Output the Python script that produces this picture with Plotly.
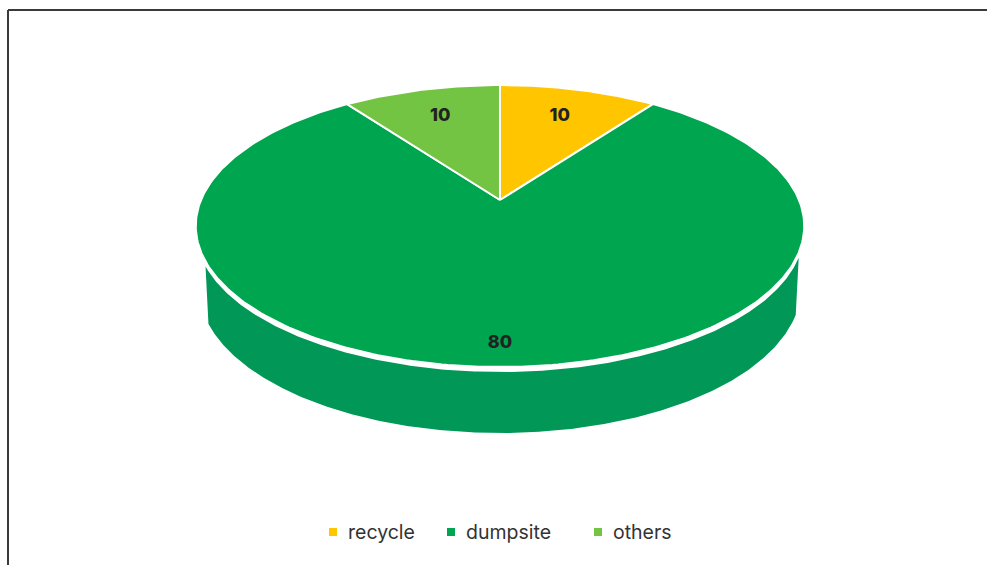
import numpy as np
import plotly.graph_objects as go

# ---- data ----
categories = ["recycle", "dumpsite", "others"]
values = [10, 80, 10]
colors_top = ["#FFC600", "#00A54F", "#74C443"]
colors_side = ["#E6B200", "#009757", "#66B03A"]
label_r = [0.73, 0.88, 0.73]

# ---- geometry (pixel space) ----
W, H = 987, 565
cx, cy = 500.0, 200.0
R, K, D = 299.0, 136.2, 5.42
GAP = 5.0


def proj(theta_deg, r=1.0):
    t = np.radians(theta_deg)
    a = r * np.sin(t)
    b = r * np.cos(t)
    s = D / (D + b)
    return cx + R * a * s, cy - K * b * s


def thick(theta_deg):
    b = np.cos(np.radians(theta_deg))
    return 60.0 + 6.0 * np.clip(-b, 0, 1)


fig = go.Figure()

total = sum(values)
starts = np.cumsum([0] + values[:-1]) / total * 360.0
ends = np.cumsum(values) / total * 360.0

# side wall (front part of the cylinder), coloured by slice
XL, XR = 205.0, 799.0
for i, (s0, s1) in enumerate(zip(starts, ends)):
    th = np.linspace(max(s0, 95.0), min(s1, 265.0), 400)
    if len(th) == 0 or th[0] >= th[-1]:
        continue
    xt, yt = proj(th)
    m = (xt >= XL) & (xt <= XR)
    if not m.any():
        continue
    th = th[m]
    xt, yt = xt[m], yt[m]
    T = thick(th)
    xb = cx + (xt - cx) * 0.99
    yb = yt + T
    xs = np.concatenate([xt, xb[::-1], [xt[0]]])
    ys = np.concatenate([yt + GAP, yb[::-1], [yt[0] + GAP]])
    fig.add_trace(go.Scatter(x=xs, y=ys, mode="lines", fill="toself",
                             fillcolor=colors_side[i], line=dict(width=0),
                             hoverinfo="skip", showlegend=False))

# top face slices
for i, (s0, s1) in enumerate(zip(starts, ends)):
    th = np.linspace(s0, s1, 300)
    xa, ya = proj(th)
    xs = np.concatenate([[cx], xa, [cx]])
    ys = np.concatenate([[cy], ya, [cy]])
    fig.add_trace(go.Scatter(x=xs, y=ys, mode="lines", fill="toself",
                             fillcolor=colors_top[i],
                             line=dict(color="white", width=2),
                             hoverinfo="skip", showlegend=False))

# data labels
mids = (starts + ends) / 2
lx, ly = [], []
for i, m in enumerate(mids):
    x, y = proj(m, label_r[i])
    lx.append(float(x))
    ly.append(float(y))
fig.add_trace(go.Scatter(x=lx, y=ly, mode="text", text=[str(v) for v in values],
                         textfont=dict(family="Inter", size=18, color="#222222", weight=800),
                         hoverinfo="skip", showlegend=False))

# legend (manual)
leg_x = [333, 451, 598]
leg_y = 532
for i, c in enumerate(categories):
    fig.add_trace(go.Scatter(x=[leg_x[i]], y=[leg_y], mode="markers",
                             marker=dict(symbol="square", size=8, color=colors_top[i]),
                             hoverinfo="skip", showlegend=False))
    fig.add_annotation(x=leg_x[i] + 13, y=leg_y, text=c, showarrow=False,
                       xanchor="left", yanchor="middle",
                       font=dict(family="Inter", size=19.5, color="#333333"))

# frame lines
fig.add_shape(type="line", x0=8, y0=10, x1=W, y1=10, line=dict(color="#3a3a3a", width=2))
fig.add_shape(type="line", x0=8, y0=10, x1=8, y1=H, line=dict(color="#3a3a3a", width=2))

fig.update_layout(
    width=W, height=H, margin=dict(l=0, r=0, t=0, b=0),
    paper_bgcolor="white", plot_bgcolor="white",
    xaxis=dict(range=[0, W], visible=False, fixedrange=True),
    yaxis=dict(range=[H, 0], visible=False, fixedrange=True),
    showlegend=False,
)
fig.write_html("out.html")
